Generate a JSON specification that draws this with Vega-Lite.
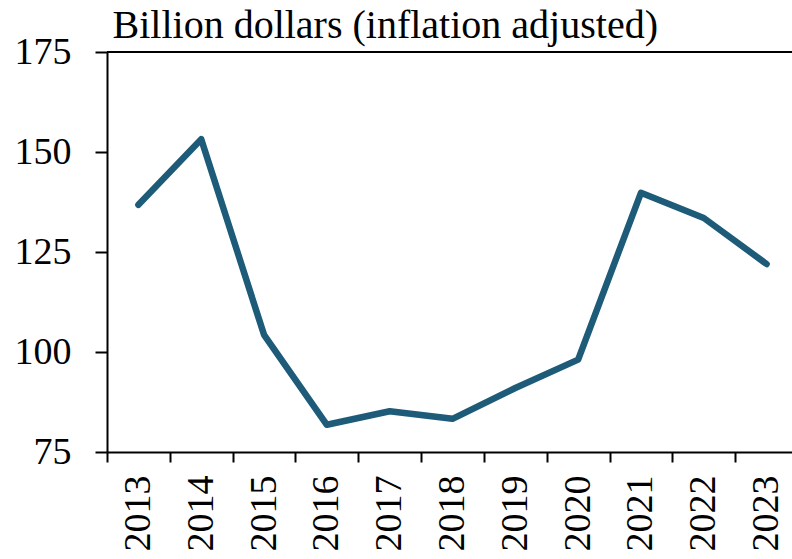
{
  "$schema": "https://vega.github.io/schema/vega-lite/v6.json",
  "width": 685,
  "height": 400,
  "autosize": {"type": "none"},
  "padding": {"left": 107, "top": 52, "right": 0, "bottom": 107},
  "background": "white",
  "config": {"view": {"stroke": null}, "font": "Liberation Serif"},
  "data": {
    "values": [
      {"year": "2013", "value": 136.8},
      {"year": "2014", "value": 153.2},
      {"year": "2015", "value": 104.3},
      {"year": "2016", "value": 81.8},
      {"year": "2017", "value": 85.2},
      {"year": "2018", "value": 83.3},
      {"year": "2019", "value": 91.0},
      {"year": "2020", "value": 98.1},
      {"year": "2021", "value": 139.8},
      {"year": "2022", "value": 133.5},
      {"year": "2023", "value": 122.0}
    ]
  },
  "layer": [
    {
      "mark": {"type": "rule", "color": "black", "strokeWidth": 2},
      "encoding": {"y": {"datum": 175, "type": "quantitative"}}
    },
    {
      "mark": {"type": "line", "color": "#1d5b79", "strokeWidth": 6.5, "strokeJoin": "round", "strokeCap": "round"},
      "encoding": {
        "x": {
          "field": "year",
          "type": "ordinal",
          "bandPosition": 0.5,
          "scale": {"type": "band", "range": [0, 691], "paddingInner": 0, "paddingOuter": 0},
          "axis": {
            "title": null,
            "tickBand": "extent",
            "labelAngle": 270,
            "labelAlign": "right",
            "labelBaseline": "middle",
            "labelFont": "Liberation Serif",
            "labelFontSize": 38,
            "labelColor": "black",
            "labelPadding": 13,
            "tickSize": 10,
            "tickWidth": 2,
            "tickColor": "black",
            "domainWidth": 2,
            "domainColor": "black",
            "grid": false
          }
        },
        "y": {
          "field": "value",
          "type": "quantitative",
          "scale": {"domain": [75, 175], "nice": false, "zero": false},
          "axis": {
            "title": "Billion dollars (inflation adjusted)",
            "titleAngle": 0,
            "titleAlign": "left",
            "titleBaseline": "alphabetic",
            "titleX": 5,
            "titleY": -15,
            "titleFont": "Liberation Serif",
            "titleFontSize": 40,
            "titleFontWeight": "normal",
            "titleColor": "black",
            "values": [75, 100, 125, 150, 175],
            "labelFont": "Liberation Serif",
            "labelFontSize": 38,
            "labelColor": "black",
            "labelPadding": 24,
            "tickSize": 12,
            "tickWidth": 2,
            "tickColor": "black",
            "domainWidth": 2,
            "domainColor": "black",
            "grid": false
          }
        }
      }
    }
  ]
}
